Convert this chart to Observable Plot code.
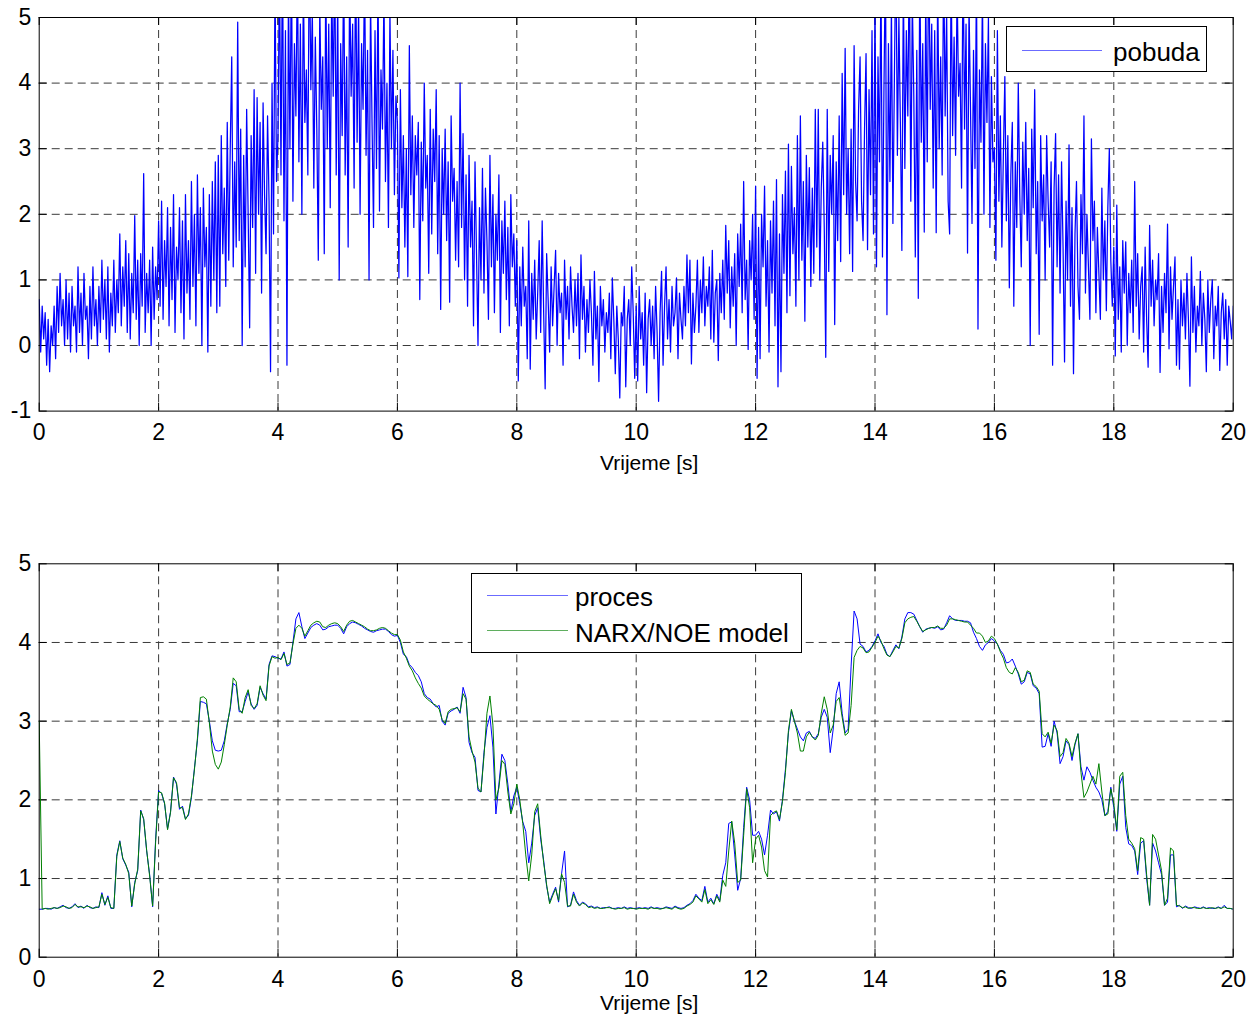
<!DOCTYPE html>
<html>
<head>
<meta charset="utf-8">
<script src="https://cdn.jsdelivr.net/npm/d3@7"></script>
<script src="https://cdn.jsdelivr.net/npm/@observablehq/plot@0.6"></script>
<style>
  body { margin: 0; background: #fff; font-family: "Liberation Sans", Arial, sans-serif; }
  #fig { position: relative; width: 1260px; height: 1016px; overflow: hidden; }
  .panel { position: absolute; left: 0; }
  .legend { position: absolute; box-sizing: border-box; border: 1px solid #000; background: #fff; }
  .legend .sample { position: absolute; height: 0; border-top: 1px solid; }
  .legend .label { position: absolute; font-size: 26px; line-height: 30px; color: #000; white-space: nowrap; }
</style>
</head>
<body>
<div id="fig"></div>
<script>
// Excitation signal "pobuda", sampled every 0.025 s over 0..20 s (one row per second)
const pobuda = [
  0.7,-0.1,0.6,0.1,0.5,-0.3,0.4,-0.4,0.3,0.0,0.6,-0.2,0.9,0.2,1.1,0.3,0.7,0.0,1.0,0.1,0.8,-0.1,0.9,0.3,0.6,-0.1,1.2,0.2,0.8,0.0,1.1,0.4,0.6,-0.2,0.9,0.1,1.2,0.3,0.7,0.0,
  0.9,0.2,1.3,0.4,1.0,0.1,1.2,-0.1,0.8,0.3,1.3,0.2,1.0,0.5,1.7,0.3,1.2,0.6,1.6,0.2,1.4,0.1,1.1,0.5,1.98,0.4,1.3,0.0,1.4,0.6,2.62,0.2,1.1,0.5,1.3,0.0,1.5,0.4,1.2,0.7,
  1.9,0.6,2.2,0.4,1.6,0.9,2.1,0.3,1.8,0.7,2.3,0.2,1.5,1.0,2.1,0.5,1.9,0.1,2.3,0.8,1.6,0.4,2.5,0.9,2.0,0.3,2.6,1.1,2.1,0.0,2.4,1.2,1.8,-0.1,2.3,0.6,2.5,1.0,2.8,0.5,
  2.9,0.6,3.2,1.4,2.4,0.9,3.4,1.3,3.0,4.4,1.2,2.8,1.5,4.93,1.6,3.3,0.0,2.9,1.2,3.6,2.0,0.27,3.2,1.8,3.9,1.1,3.78,2.0,3.4,0.8,3.7,2.3,1.4,3.5,2.2,-0.4,4.0,1.7,5.6,2.5,
  3.2,5.8,2.6,6.2,1.9,4.8,-0.3,5.5,3.0,6.0,2.2,4.6,3.5,5.9,2.8,4.9,2.0,5.6,3.4,4.2,2.6,6.3,3.9,5.1,2.4,4.7,3.3,1.3,5.2,3.6,4.4,1.4,5.7,3.0,4.9,2.1,5.5,3.8,6.0,2.6,
  5.4,1.0,4.6,3.2,5.9,2.6,4.4,1.5,5.7,3.8,4.9,2.4,6.1,3.1,5.2,2.0,4.6,3.6,5.8,2.9,4.5,1.0,5.3,3.4,1.8,4.8,2.7,5.6,2.05,4.2,3.3,5.4,2.5,4.0,1.8,5.1,3.0,4.5,2.3,3.8,
  3.4,1.03,3.9,2.1,3.2,1.5,3.0,1.05,4.57,2.3,3.5,1.8,3.2,2.6,3.4,0.7,3.1,1.9,4.0,2.4,2.9,1.1,3.6,1.7,3.3,2.5,3.9,1.4,3.2,0.55,3.0,2.0,3.3,1.6,2.8,0.66,3.5,2.2,2.7,1.3,
  2.5,1.2,4.0,1.8,3.23,1.0,2.6,0.6,2.9,1.5,2.2,0.3,2.8,1.4,0.0,2.1,1.0,2.7,0.8,2.4,1.6,0.4,2.9,1.2,2.3,0.5,2.0,1.3,2.6,0.2,1.9,1.1,2.2,0.7,1.8,0.3,2.3,1.2,1.7,0.6,
  1.6,-0.54,1.2,0.3,1.5,0.6,0.9,-0.2,1.9,-0.36,1.1,0.4,1.3,0.1,0.8,1.6,0.2,1.9,0.5,-0.66,1.4,0.7,-0.1,1.2,0.3,0.9,1.45,0.0,1.1,0.5,0.8,-0.3,1.3,0.4,0.9,0.1,1.2,0.6,0.2,1.0,
  0.3,1.1,-0.2,1.38,0.4,0.9,-0.1,0.7,0.2,1.0,0.5,-0.3,1.13,0.1,0.6,-0.55,0.9,0.3,0.7,-0.1,0.5,0.2,0.8,-0.2,1.03,0.4,-0.43,0.6,0.1,-0.8,0.5,0.3,0.9,-0.63,0.4,0.7,0.0,1.2,0.5,-0.5,
  0.6,-0.54,0.9,0.1,0.5,-0.3,0.8,-0.72,0.4,0.7,0.0,0.6,-0.2,0.9,0.2,-0.85,0.5,1.13,-0.3,0.6,1.2,0.1,0.7,-0.1,0.9,0.3,0.5,1.03,-0.2,0.8,0.4,0.1,0.9,0.3,1.38,0.5,1.3,-0.28,0.8,0.2,
  0.6,1.3,0.2,1.0,0.5,1.35,0.3,0.9,0.6,1.2,0.1,1.45,0.05,0.8,1.0,-0.23,1.1,0.5,1.3,0.4,1.83,0.8,1.6,0.27,1.2,0.6,1.4,0.0,1.7,0.9,1.85,0.5,2.5,0.7,1.3,-0.06,1.6,1.0,2.0,0.4,
  2.43,-0.5,1.8,-0.2,2.0,1.2,2.43,0.6,1.6,-0.1,1.9,0.8,2.2,0.3,2.53,-0.63,1.7,-0.4,2.3,1.1,2.66,0.5,3.07,0.76,2.73,1.4,2.1,0.6,3.2,1.0,3.5,1.3,2.5,0.37,2.9,1.5,2.71,0.9,2.4,1.1,
  3.6,1.5,3.6,1.0,2.4,3.1,1.8,-0.18,3.6,1.13,2.9,2.0,3.2,0.32,2.8,1.6,3.5,1.28,4.15,2.3,4.53,2.0,3.0,1.4,3.3,1.13,4.57,2.5,1.9,3.6,4.4,2.2,1.6,3.3,4.45,1.46,3.9,2.3,4.8,1.7,
  5.3,1.2,4.4,2.8,5.7,1.35,3.9,6.0,0.47,4.6,2.5,5.2,1.86,4.1,6.2,2.9,5.0,3.4,1.45,5.6,2.7,4.8,3.5,6.1,2.2,5.3,3.8,1.35,4.5,0.72,5.9,3.1,4.6,1.73,5.4,2.8,6.3,3.6,4.9,2.4,
  4.8,1.72,5.6,3.0,4.4,2.6,6.0,3.5,5.1,2.2,1.7,5.8,3.2,4.7,2.9,5.5,3.8,4.3,2.4,6.1,3.3,4.9,1.41,5.2,3.6,1.86,4.5,2.7,5.7,0.25,4.2,3.1,5.4,2.0,4.6,3.4,5.0,1.8,4.1,2.8,
  3.0,1.3,4.8,2.2,3.5,1.5,2.9,4.1,1.9,3.2,0.88,2.6,3.4,0.6,2.8,1.8,4.0,2.3,1.2,3.1,2.0,3.4,1.6,2.7,0.0,3.3,2.1,3.9,1.4,2.5,0.17,3.2,1.9,2.6,1.0,3.2,2.2,1.5,2.8,-0.3,
  2.4,3.23,1.2,2.6,0.8,2.8,1.5,-0.25,2.2,1.0,3.06,0.6,2.1,-0.43,1.7,2.5,0.9,0.4,2.3,1.4,3.5,0.8,2.0,1.2,0.4,3.15,1.6,2.2,0.5,1.8,1.1,0.4,2.4,1.0,1.9,0.53,2.1,3.0,1.3,0.6,
  1.5,-0.16,2.14,0.4,1.2,-0.1,1.6,0.8,1.58,0.0,1.1,0.5,1.3,0.2,2.5,0.6,1.4,0.1,0.9,1.2,-0.1,1.5,0.4,-0.33,1.83,0.6,1.3,0.3,1.0,0.7,1.4,-0.41,0.9,0.2,1.1,0.5,1.85,-0.05,1.2,0.4,
  0.9,1.35,-0.3,0.7,-0.36,1.0,0.3,0.8,0.1,1.1,0.4,-0.62,1.35,0.2,0.9,-0.1,0.6,0.3,1.13,0.0,0.8,0.4,-0.4,1.0,0.2,0.7,1.0,-0.2,0.6,0.3,0.9,-0.38,0.5,0.8,0.1,0.7,-0.3,0.6,0.37,0.1,
  0.6
];

// Process output "proces", sampled every 0.05 s (one row per second)
const proces = [
  0.61,0.61,0.62,0.62,0.61,0.63,0.62,0.64,0.66,0.63,0.62,0.64,0.68,0.63,0.65,0.62,0.66,0.63,0.62,0.64,
  0.63,0.82,0.66,0.78,0.62,0.62,1.30,1.48,1.25,1.17,1.08,0.64,0.95,1.10,1.87,1.75,1.35,1.05,0.64,1.50,
  2.12,2.08,1.95,1.63,1.85,2.29,2.20,1.88,1.92,1.76,1.80,2.03,2.40,2.75,3.25,3.24,3.22,3.00,2.75,2.63,
  2.62,2.63,2.75,2.97,3.15,3.48,3.45,3.12,3.12,3.25,3.37,3.22,3.15,3.20,3.43,3.35,3.28,3.72,3.83,3.82,
  3.80,3.79,3.88,3.70,3.72,4.00,4.30,4.38,4.20,4.05,4.12,4.19,4.22,4.24,4.22,4.16,4.17,4.20,4.21,4.22,
  4.22,4.18,4.11,4.20,4.24,4.26,4.25,4.23,4.21,4.18,4.16,4.14,4.13,4.15,4.16,4.17,4.17,4.14,4.10,4.08,
  4.09,4.00,3.85,3.82,3.72,3.68,3.62,3.58,3.50,3.35,3.30,3.28,3.22,3.18,3.20,3.00,2.95,3.10,3.13,3.15,
  3.18,3.10,3.43,3.30,2.73,2.60,2.54,2.12,2.10,2.60,2.92,3.07,2.67,1.82,2.20,2.58,2.50,2.20,1.85,2.05,
  2.16,1.95,1.72,1.60,1.20,1.45,1.80,1.90,1.50,1.23,0.90,0.70,0.80,0.89,0.70,1.06,1.35,0.64,0.66,0.83,
  0.72,0.66,0.70,0.68,0.64,0.65,0.63,0.64,0.62,0.63,0.63,0.64,0.62,0.62,0.63,0.62,0.64,0.62,0.63,0.62,
  0.62,0.63,0.62,0.63,0.62,0.64,0.62,0.63,0.62,0.62,0.64,0.63,0.62,0.65,0.63,0.62,0.63,0.66,0.68,0.72,
  0.80,0.75,0.72,0.90,0.70,0.75,0.68,0.80,0.72,1.04,1.20,1.70,1.72,1.30,0.85,1.00,1.65,2.16,2.00,1.55,
  1.55,1.60,1.50,1.30,1.55,1.87,1.82,1.85,1.73,2.00,2.39,2.85,3.13,3.00,2.90,2.80,2.75,2.85,2.87,2.80,
  2.78,2.84,3.05,3.15,3.05,2.60,2.90,3.35,3.50,3.10,2.85,2.90,3.70,4.40,4.30,3.98,3.95,3.88,3.90,3.95,
  4.02,4.11,4.00,3.95,3.85,3.82,3.90,3.97,3.92,4.07,4.30,4.38,4.38,4.36,4.28,4.20,4.13,4.17,4.18,4.19,
  4.18,4.20,4.16,4.17,4.25,4.34,4.30,4.28,4.28,4.28,4.27,4.27,4.25,4.13,4.05,3.95,3.90,3.97,4.00,4.05,
  4.02,3.98,3.90,3.85,3.74,3.75,3.79,3.70,3.60,3.47,3.50,3.62,3.60,3.45,3.42,3.35,2.67,2.68,2.84,2.68,
  3.00,2.85,2.46,2.55,2.75,2.70,2.50,2.70,2.84,2.42,2.25,2.42,2.35,2.25,2.16,2.10,2.00,1.80,1.85,2.16,
  1.90,1.60,2.20,2.30,1.65,1.44,1.42,1.35,1.05,1.45,1.48,1.00,0.66,1.45,1.35,1.20,1.05,0.66,0.70,1.30,
  1.30,0.64,0.66,0.62,0.65,0.63,0.62,0.64,0.63,0.62,0.64,0.62,0.63,0.62,0.62,0.64,0.62,0.66,0.62,0.62,
  0.61
];

// NARX/NOE model output, same sampling as proces
const model = [
  3.00,0.61,0.62,0.61,0.62,0.63,0.62,0.63,0.65,0.64,0.62,0.63,0.67,0.64,0.64,0.63,0.65,0.64,0.62,0.63,
  0.64,0.80,0.67,0.76,0.63,0.62,1.28,1.47,1.26,1.18,1.06,0.65,0.93,1.12,1.86,1.76,1.36,1.03,0.65,1.46,
  2.10,2.09,1.96,1.62,1.84,2.28,2.22,1.90,1.90,1.75,1.82,2.05,2.38,2.78,3.30,3.31,3.28,2.98,2.62,2.45,
  2.39,2.48,2.70,2.95,3.18,3.55,3.50,3.15,3.10,3.30,3.40,3.20,3.16,3.22,3.45,3.33,3.26,3.70,3.82,3.80,
  3.81,3.78,3.86,3.72,3.74,3.98,4.18,4.22,4.18,4.08,4.15,4.22,4.25,4.27,4.26,4.20,4.19,4.22,4.24,4.25,
  4.24,4.20,4.14,4.22,4.27,4.28,4.26,4.24,4.22,4.20,4.17,4.15,4.15,4.16,4.18,4.19,4.18,4.15,4.12,4.10,
  4.10,4.03,3.88,3.80,3.70,3.64,3.55,3.48,3.42,3.32,3.28,3.25,3.22,3.20,3.15,3.02,2.97,3.12,3.15,3.16,
  3.17,3.12,3.35,3.28,2.80,2.62,2.48,2.15,2.10,2.55,3.10,3.32,2.95,2.00,2.15,2.50,2.45,2.10,1.82,1.95,
  2.20,2.00,1.70,1.30,0.97,1.30,1.85,1.95,1.55,1.20,0.92,0.68,0.78,0.87,0.72,1.06,0.95,0.65,0.65,0.80,
  0.70,0.65,0.69,0.67,0.63,0.64,0.62,0.63,0.62,0.62,0.63,0.63,0.62,0.61,0.62,0.62,0.63,0.61,0.62,0.62,
  0.61,0.62,0.62,0.62,0.61,0.63,0.62,0.62,0.61,0.62,0.63,0.62,0.61,0.64,0.62,0.61,0.62,0.65,0.67,0.70,
  0.78,0.74,0.70,0.86,0.68,0.73,0.67,0.78,0.70,0.98,0.90,1.35,1.73,1.45,0.95,0.98,1.55,2.14,1.90,1.20,
  1.50,1.55,1.40,1.10,1.02,1.80,1.84,1.86,1.75,1.98,2.35,2.88,3.15,3.00,2.85,2.62,2.62,2.80,2.86,2.80,
  2.76,2.82,3.10,3.31,3.15,2.85,2.95,3.25,3.30,3.05,2.82,2.85,3.20,3.81,3.90,3.95,3.93,3.87,3.88,3.94,
  4.00,4.08,4.02,3.92,3.84,3.82,3.88,3.95,3.93,4.05,4.25,4.30,4.32,4.33,4.27,4.20,4.14,4.16,4.18,4.19,
  4.19,4.21,4.18,4.18,4.22,4.30,4.30,4.29,4.28,4.27,4.26,4.26,4.22,4.18,4.12,4.12,4.08,4.00,4.02,4.08,
  4.05,3.98,3.88,3.80,3.68,3.62,3.60,3.68,3.62,3.50,3.52,3.64,3.62,3.47,3.44,3.38,2.84,2.80,2.86,2.72,
  2.95,2.88,2.55,2.60,2.78,2.72,2.55,2.72,2.84,2.35,2.03,2.10,2.20,2.30,2.20,2.46,2.10,1.80,1.82,2.14,
  1.95,1.62,2.30,2.35,1.80,1.50,1.45,1.38,1.10,1.52,1.50,1.05,0.66,1.56,1.50,1.30,1.10,0.66,0.75,1.39,
  1.35,0.66,0.65,0.63,0.64,0.62,0.63,0.63,0.62,0.62,0.63,0.62,0.62,0.63,0.62,0.63,0.62,0.64,0.62,0.62,
  0.61
];

const xTicks = [0, 2, 4, 6, 8, 10, 12, 14, 16, 18, 20];
const yTicksTop = [-1, 0, 1, 2, 3, 4, 5];
const yTicksBottom = [0, 1, 2, 3, 4, 5];
const xLabel = "Vrijeme [s]";

const T_END = 20;
const series = (values) => values.map((v, i) => ({t: i * T_END / (values.length - 1), v}));

const FONT = "'Liberation Sans', Arial, Helvetica, sans-serif";
const TICK_LEN = 8;
const gridStyle = {stroke: "#3a3a3a", strokeWidth: 1, strokeDasharray: "8,5"};

// Boxed axes with dashed grid and inward tick marks on all four sides
function axesMarks(yDomain, yTicks, labelOffset) {
  const [x0, x1] = [0, T_END];
  const [y0, y1] = yDomain;
  return [
    Plot.ruleX(xTicks.filter(d => d > x0 && d < x1), gridStyle),
    Plot.ruleY(yTicks.filter(d => d > y0 && d < y1), gridStyle),
    Plot.ruleX(xTicks, {y1: y0, y2: y0, insetTop: -TICK_LEN, stroke: "#000"}),
    Plot.ruleX(xTicks, {y1: y1, y2: y1, insetBottom: -TICK_LEN, stroke: "#000"}),
    Plot.ruleY(yTicks, {x1: x0, x2: x0, insetRight: -TICK_LEN, stroke: "#000"}),
    Plot.ruleY(yTicks, {x1: x1, x2: x1, insetLeft: -TICK_LEN, stroke: "#000"}),
    Plot.axisX(xTicks, {tickSize: 0, tickPadding: 13, fontSize: 23, tickFormat: d => String(d), label: null}),
    Plot.axisY(yTicks, {tickSize: 0, tickPadding: 8, fontSize: 23, tickFormat: d => String(d), label: null}),
    Plot.text([xLabel], {frameAnchor: "bottom", dx: 13, dy: labelOffset, fontSize: 21, fill: "#000"})
  ];
}

function panel({height, marginTop, marginBottom, yDomain, yTicks, lines, labelOffset}) {
  return Plot.plot({
    width: 1260,
    height,
    marginLeft: 38.7,
    marginRight: 27.3,
    marginTop,
    marginBottom,
    style: {fontFamily: FONT, color: "#000", background: "transparent", overflow: "visible"},
    x: {domain: [0, T_END]},
    y: {domain: yDomain},
    marks: [
      ...axesMarks(yDomain, yTicks, labelOffset),
      ...lines,
      Plot.frame({stroke: "#000", strokeWidth: 1})
    ]
  });
}

const fig = document.getElementById("fig");

const topPanel = panel({
  height: 480, marginTop: 17, marginBottom: 69.4,
  yDomain: [-1, 5], yTicks: yTicksTop, labelOffset: 58.4,
  lines: [
    Plot.line(series(pobuda), {x: "t", y: "v", stroke: "#0000ff", strokeWidth: 1.25, clip: true})
  ]
});
topPanel.classList.add("panel");
topPanel.style.top = "0px";
fig.appendChild(topPanel);

const bottomPanel = panel({
  height: 536, marginTop: 83.3, marginBottom: 59.3,
  yDomain: [0, 5], yTicks: yTicksBottom, labelOffset: 52.3,
  lines: [
    Plot.line(series(proces), {x: "t", y: "v", stroke: "#0000ff", strokeWidth: 1, clip: true}),
    Plot.line(series(model), {x: "t", y: "v", stroke: "#008000", strokeWidth: 1, clip: true})
  ]
});
bottomPanel.classList.add("panel");
bottomPanel.style.top = "480px";
fig.appendChild(bottomPanel);

// Legends
function legend({left, top, width, height, items}) {
  const box = document.createElement("div");
  box.className = "legend";
  Object.assign(box.style, {left: left + "px", top: top + "px", width: width + "px", height: height + "px"});
  for (const it of items) {
    const s = document.createElement("div");
    s.className = "sample";
    Object.assign(s.style, {left: it.lineX + "px", top: it.y + "px", width: it.lineW + "px", borderTopColor: it.color});
    box.appendChild(s);
    const l = document.createElement("div");
    l.className = "label";
    l.textContent = it.label;
    Object.assign(l.style, {left: it.textX + "px", top: (it.y - 14 + (it.textDy || 0)) + "px"});
    box.appendChild(l);
  }
  fig.appendChild(box);
}

legend({
  left: 1006, top: 26, width: 201, height: 46,
  items: [{label: "pobuda", color: "#6b6bff", lineX: 15, lineW: 80, textX: 106, y: 22.5, textDy: 1}]
});

legend({
  left: 471, top: 573, width: 331, height: 80,
  items: [
    {label: "proces", color: "#6b6bff", lineX: 15, lineW: 81, textX: 103, y: 21, textDy: 1},
    {label: "NARX/NOE model", color: "#5fae5f", lineX: 15, lineW: 81, textX: 103, y: 56, textDy: 2}
  ]
});
</script>
</body>
</html>
